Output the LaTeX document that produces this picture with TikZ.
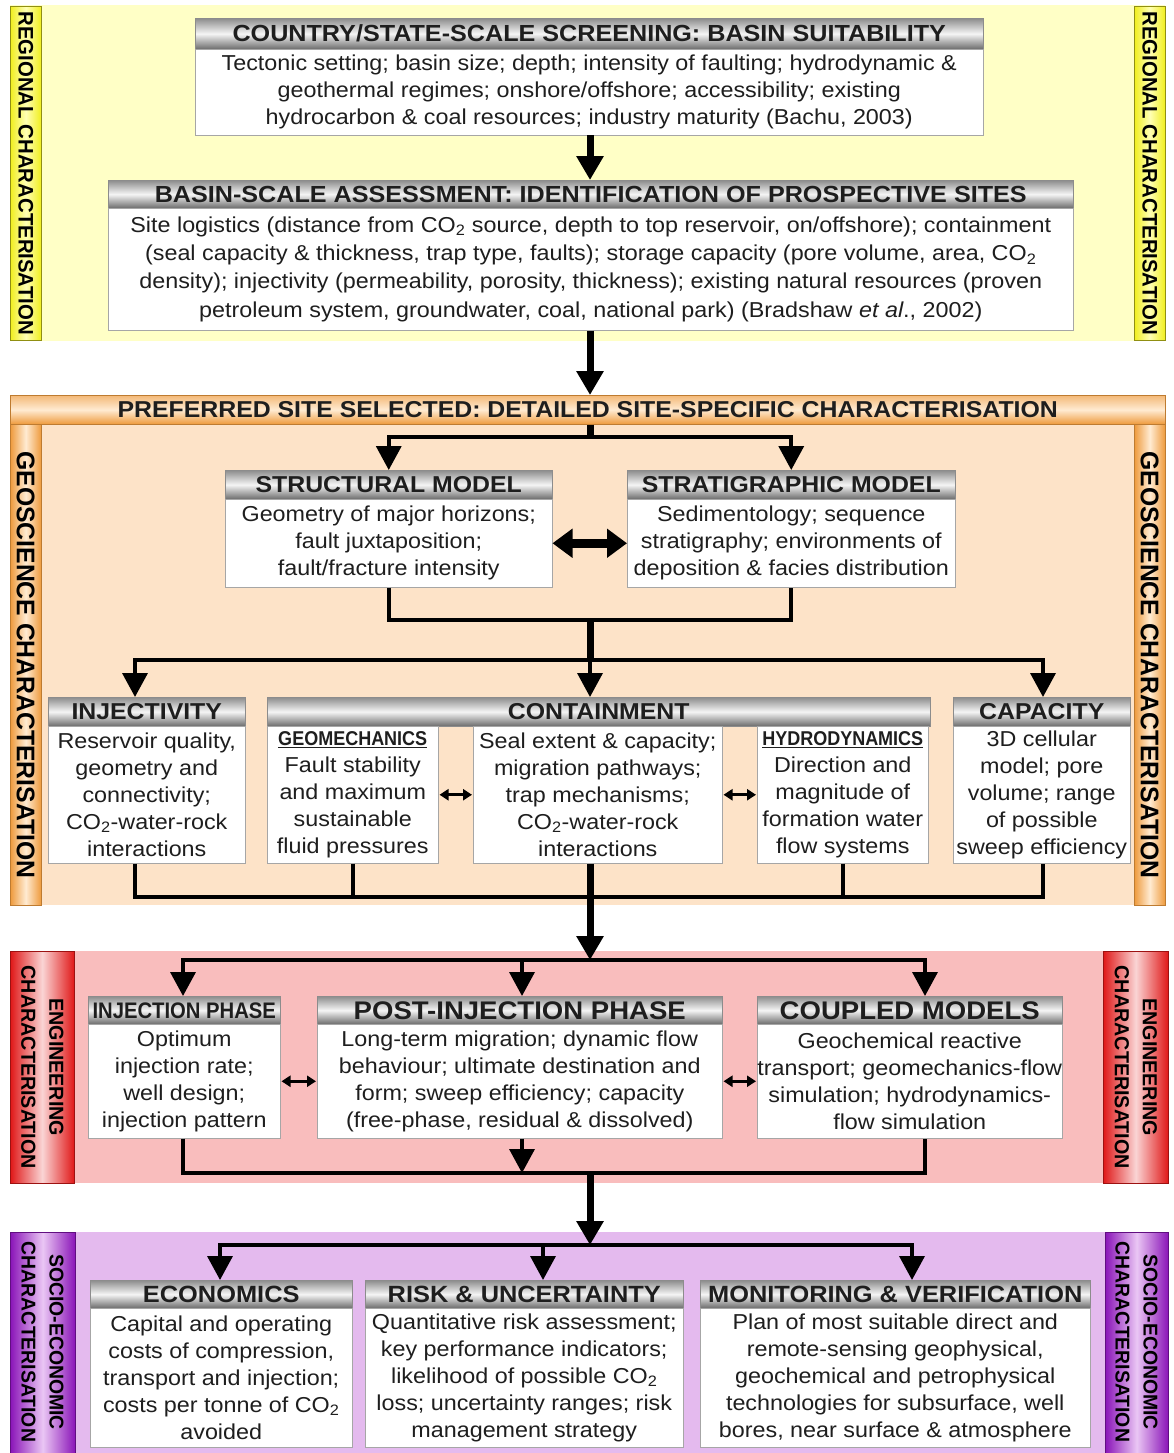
\documentclass[tikz,border=0pt]{standalone}
\usepackage{fontspec}
\setmainfont{Liberation Sans}[FakeStretch=1.08]
\newfontfamily\condfont{Liberation Sans}[FakeStretch=0.9]
\newfontfamily\sidefont{Liberation Sans}[FakeStretch=0.97]
\usetikzlibrary{arrows.meta}
\definecolor{yelband}{HTML}{FFFFC6}
\definecolor{yelbar}{HTML}{F0EE1E}
\definecolor{yellite}{HTML}{FFFFB4}
\definecolor{orband}{HTML}{FDE3C8}
\definecolor{orbar}{HTML}{EE9A3C}
\definecolor{orlite}{HTML}{FFEBD2}
\definecolor{redband}{HTML}{F9BDBD}
\definecolor{redbar}{HTML}{E01818}
\definecolor{redlite}{HTML}{FAD4D4}
\definecolor{purband}{HTML}{E4BAEE}
\definecolor{purbar}{HTML}{8A14B8}
\definecolor{purlite}{HTML}{EAC6F4}
\definecolor{txt}{HTML}{1E1E1E}
\newcommand\cotwo{CO\textsubscript{2}}
\newcommand\flowbox[9][]{% [hdr opts] name, x1, x2, ytop, ymid, ybot, title, body
  \pgfmathsetmacro\fbw{#4-#3}%
  \pgfmathsetmacro\fbh{#6-#5}%
  \pgfmathsetmacro\fbb{#7-#6}%
  \node[hdr, #1, minimum width=\fbw pt, minimum height=\fbh pt, anchor=north west] (#2h) at (#3,#5) {#8};
  \node[bodyb, bodyx, minimum width=\fbw pt, minimum height=\fbb pt, anchor=north west] (#2b) at (#3,#6) {#9};
}
\tikzset{
  hdr/.style={draw=black!45, line width=0.5pt, inner sep=0pt, top color=black!45, bottom color=black!58, middle color=black!4, text=txt, font=\fontsize{23}{26}\selectfont\bfseries},
  bodyb/.style={draw=black!35, line width=0.5pt, fill=white, inner sep=0pt, align=center, text=txt, font=\fontsize{21.6}{27}\selectfont},
  bodyx/.style={},
  conn/.style={line width=3.6pt, black},
  arr/.style={conn, -{Triangle[width=25pt,length=24pt]}},
  trunk/.style={line width=7pt, black},
  trunkarr/.style={trunk, -{Triangle[width=26pt,length=24pt]}},
  dbl/.style={line width=9pt, {Triangle[width=28pt,length=20pt]}-{Triangle[width=28pt,length=20pt]}},
  sdbl/.style={line width=2.6pt, {Triangle[width=11pt,length=9pt]}-{Triangle[width=11pt,length=9pt]}},
  sidebar/.style={inner sep=0pt, line width=0.5pt, anchor=north west},
  sidetxt/.style={rotate=-90, align=center, inner sep=0pt, text=black},
}
\begin{document}
\begin{tikzpicture}[x=1pt,y=-1pt]
\useasboundingbox (0,0) rectangle (1174,1453);
\fill[white] (0,0) rectangle (1174,1453);

% ---------------- bands ----------------
\fill[yelband] (10,5) rectangle (1165,341);
\fill[orband] (10,424) rectangle (1165,905);
\fill[redband] (10,951) rectangle (1168,1183);
\fill[purband] (10,1232) rectangle (1168,1453);

% side bars
\node[sidebar, draw=yelbar!60!black, left color=yelbar, right color=yelbar, middle color=yellite, minimum width=31pt, minimum height=334pt] (yl) at (10,6) {};
\node[sidebar, draw=yelbar!60!black, left color=yelbar, right color=yelbar, middle color=yellite, minimum width=31pt, minimum height=334pt] (yr) at (1134,6) {};
\node[sidetxt, font=\sidefont\fontsize{21}{24}\selectfont\bfseries] (ylt) at (yl.center) {REGIONAL CHARACTERISATION};
\node[sidetxt, font=\sidefont\fontsize{21}{24}\selectfont\bfseries] (yrt) at (yr.center) {REGIONAL CHARACTERISATION};

\node[sidebar, draw=orbar!80!black, top color=orbar!70, bottom color=orbar, middle color=orlite, minimum width=1155pt, minimum height=29pt, font=\fontsize{23}{26}\selectfont\bfseries, text=txt] (pref) at (10,395) {PREFERRED SITE SELECTED: DETAILED SITE-SPECIFIC CHARACTERISATION};
\node[sidebar, draw=orbar!80!black, left color=orbar, right color=orbar, middle color=orlite, minimum width=31pt, minimum height=481pt] (ol) at (10,424) {};
\node[sidebar, draw=orbar!80!black, left color=orbar, right color=orbar, middle color=orlite, minimum width=31pt, minimum height=481pt] (or) at (1134,424) {};
\node[sidetxt, font=\sidefont\fontsize{25.5}{28}\selectfont\bfseries] (olt) at (ol.center) {GEOSCIENCE CHARACTERISATION};
\node[sidetxt, font=\sidefont\fontsize{25.5}{28}\selectfont\bfseries] (ort) at (or.center) {GEOSCIENCE CHARACTERISATION};

\node[sidebar, draw=redbar!70!black, left color=redbar, right color=redbar, middle color=redlite, minimum width=64pt, minimum height=232pt] (rl) at (10,951) {};
\node[sidebar, draw=redbar!70!black, left color=redbar, right color=redbar, middle color=redlite, minimum width=65pt, minimum height=232pt] (rr) at (1103,951) {};
\node[sidetxt, font=\sidefont\fontsize{20.3}{28}\selectfont\bfseries] (rlt) at (rl.center) {ENGINEERING\\CHARACTERISATION};
\node[sidetxt, font=\sidefont\fontsize{20.3}{28}\selectfont\bfseries] (rrt) at (rr.center) {ENGINEERING\\CHARACTERISATION};

\node[sidebar, draw=purbar!70!black, left color=purbar, right color=purbar, middle color=purlite, minimum width=65pt, minimum height=230pt] (pl) at (10,1232) {};
\node[sidebar, draw=purbar!70!black, left color=purbar, right color=purbar, middle color=purlite, minimum width=63pt, minimum height=230pt] (pr) at (1105,1232) {};
\node[sidetxt, font=\sidefont\fontsize{20}{28}\selectfont\bfseries] (plt) at (42.5,1342) {SOCIO-ECONOMIC\\CHARACTERISATION};
\node[sidetxt, font=\sidefont\fontsize{20}{28}\selectfont\bfseries] (prt) at (1136.5,1342) {SOCIO-ECONOMIC\\CHARACTERISATION};

% ---------------- boxes ----------------
\flowbox[font=\fontsize{23.3}{26}\selectfont\bfseries]{bA}{195}{983}{18}{49}{135}{COUNTRY/STATE-SCALE SCREENING: BASIN SUITABILITY}{Tectonic setting; basin size; depth; intensity of faulting; hydrodynamic \&\\geothermal regimes; onshore/offshore; accessibility; existing\\hydrocarbon \& coal resources; industry maturity (Bachu, 2003)}
\begin{scope}[bodyx/.style={font=\fontsize{21.6}{28.3}\selectfont}]
\flowbox[font=\fontsize{23.3}{26}\selectfont\bfseries]{bB}{108}{1073}{180}{208}{330}{BASIN-SCALE ASSESSMENT: IDENTIFICATION OF PROSPECTIVE SITES}{Site logistics (distance from \cotwo{} source, depth to top reservoir, on/offshore); containment\\(seal capacity \& thickness, trap type, faults); storage capacity (pore volume, area, \cotwo\\density); injectivity (permeability, porosity, thickness); existing natural resources (proven\\petroleum system, groundwater, coal, national park) (Bradshaw \textit{et al}., 2002)}
\end{scope}

\flowbox{struct}{225}{552}{470}{499}{587}{STRUCTURAL MODEL}{Geometry of major horizons;\\fault juxtaposition;\\fault/fracture intensity}
\flowbox{strat}{627}{955}{470}{499}{587}{STRATIGRAPHIC MODEL}{Sedimentology; sequence\\stratigraphy; environments of\\deposition \& facies distribution}

\flowbox{inj}{48}{245}{697}{726}{863}{INJECTIVITY}{Reservoir quality,\\geometry and\\connectivity;\\\cotwo-water-rock\\interactions}
\node[hdr, minimum width=663pt, minimum height=29pt, anchor=north west] (conth) at (267,697) {CONTAINMENT};
\node[bodyb, minimum width=171pt, minimum height=137pt, anchor=north west] (geob) at (267,726) {{\condfont\bfseries\fontsize{20}{24}\selectfont\underline{GEOMECHANICS}}\\Fault stability\\and maximum\\sustainable\\fluid pressures};
\node[bodyb, minimum width=249pt, minimum height=137pt, anchor=north west] (midb) at (473,726) {Seal extent \& capacity;\\migration pathways;\\trap mechanisms;\\\cotwo-water-rock\\interactions};
\node[bodyb, minimum width=171pt, minimum height=137pt, anchor=north west] (hydb) at (757,726) {{\condfont\bfseries\fontsize{20}{24}\selectfont\underline{HYDRODYNAMICS}}\\Direction and\\magnitude of\\formation water\\flow systems};
\flowbox{cap}{953}{1130}{697}{726}{863}{CAPACITY}{3D cellular\\model; pore\\volume; range\\of possible\\sweep efficiency}

\flowbox[font=\condfont\bfseries\fontsize{22.5}{26}\selectfont]{iph}{88}{280}{996}{1024}{1138}{INJECTION PHASE}{Optimum\\injection rate;\\well design;\\injection pattern}
\flowbox[font=\fontsize{25.5}{28}\selectfont\bfseries]{post}{317}{722}{996}{1024}{1138}{POST-INJECTION PHASE}{Long-term migration; dynamic flow\\behaviour; ultimate destination and\\form; sweep efficiency; capacity\\(free-phase, residual \& dissolved)}
\flowbox[font=\fontsize{25.5}{28}\selectfont\bfseries]{coup}{757}{1062}{996}{1024}{1138}{COUPLED MODELS}{Geochemical reactive\\transport; geomechanics-flow\\simulation; hydrodynamics-\\flow simulation}

\flowbox[font=\fontsize{23.5}{26}\selectfont\bfseries]{econ}{90}{352}{1280}{1308}{1447}{ECONOMICS}{Capital and operating\\costs of compression,\\transport and injection;\\costs per tonne of \cotwo\\avoided}
\flowbox[font=\fontsize{23.5}{26}\selectfont\bfseries]{risk}{365}{683}{1280}{1308}{1447}{RISK \& UNCERTAINTY}{Quantitative risk assessment;\\key performance indicators;\\likelihood of possible \cotwo\\loss; uncertainty ranges; risk\\management strategy}
\flowbox[font=\fontsize{23.5}{26}\selectfont\bfseries]{mon}{700}{1090}{1280}{1308}{1447}{MONITORING \& VERIFICATION}{Plan of most suitable direct and\\remote-sensing geophysical,\\geochemical and petrophysical\\technologies for subsurface, well\\bores, near surface \& atmosphere}

% ---------------- junction coordinates ----------------
\coordinate (xT) at (590,0);
\coordinate (xInj) at (135,0);
\coordinate (xCap) at (1043,0);
\coordinate (xIp) at (183,0);
\coordinate (xPo) at (522,0);
\coordinate (xCo) at (925,0);
\coordinate (xEc) at (220,0);
\coordinate (xRi) at (543,0);
\coordinate (xMo) at (912,0);
\coordinate (ja) at (590,437);
\coordinate (jb) at (590,620);
\coordinate (jc) at (590,660);
\coordinate (je) at (590,897);
\coordinate (jf) at (590,960);
\coordinate (jg) at (590,1173);
\coordinate (jh) at (590,1245);

% ---------------- connectors ----------------
\draw[trunkarr] (xT |- bAb.south) -- (xT |- bBh.north);
\draw[trunkarr] (xT |- bBb.south) -- (xT |- pref.north);
\draw[trunk] (xT |- pref.south) -- (ja);
\draw[arr] (ja) -| (structh.north);
\draw[arr] (ja) -| (strath.north);
\draw[dbl] (structb.east) -- (stratb.west);
\draw[conn] (structb.south) |- (jb) -| (stratb.south);
\draw[trunk] (jb) -- (jc);
\draw[arr] (jc) -| (xInj |- injh.north);
\draw[arr] (jc) -| (xCap |- caph.north);
\draw[arr] (jc) -- (xT |- conth.north);
\draw[sdbl] ([xshift=1pt]geob.east) -- ([xshift=-1pt]midb.west);
\draw[sdbl] ([xshift=1pt]midb.east) -- ([xshift=-1pt]hydb.west);
\draw[conn] (xInj |- injb.south) |- (je) -| (xCap |- capb.south);
\draw[conn] (geob.south) -- (geob.south |- je);
\draw[conn] (hydb.south) -- (hydb.south |- je);
\draw[trunkarr] (xT |- midb.south) -- (jf);
\draw[arr] (jf) -| (xIp |- iphh.north);
\draw[arr] (jf) -| (xCo |- couph.north);
\draw[arr] (xPo |- jf) -- (xPo |- posth.north);
\draw[sdbl] ([xshift=1pt]iphb.east) -- ([xshift=-1pt]postb.west);
\draw[sdbl] ([xshift=1pt]postb.east) -- ([xshift=-1pt]coupb.west);
\draw[conn] (xIp |- iphb.south) |- (jg) -| (xCo |- coupb.south);
\draw[arr] (xPo |- postb.south) -- (xPo |- jg);
\draw[trunkarr] (jg) -- (jh);
\draw[arr] (jh) -| (xEc |- econh.north);
\draw[arr] (jh) -| (xMo |- monh.north);
\draw[arr] (xRi |- jh) -- (xRi |- riskh.north);
\end{tikzpicture}
\end{document}
